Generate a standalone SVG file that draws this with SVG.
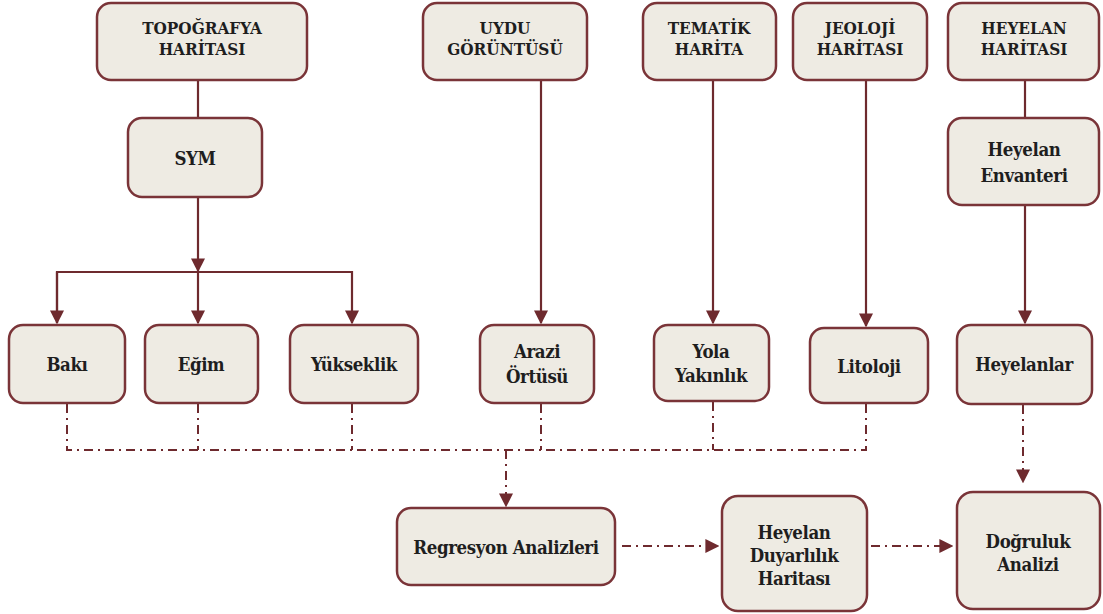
<svg xmlns="http://www.w3.org/2000/svg" width="1103" height="614" viewBox="0 0 1103 614">
<style>
.box{fill:#EEEBE3;stroke:#7A3438;stroke-width:2.5}
.h{font-size:17px}
.b{font-size:18.5px;letter-spacing:-0.4px}
.s{fill:none;stroke:#6E2A2E;stroke-width:2.2}
.d{fill:none;stroke:#6E2A2E;stroke-width:2;stroke-dasharray:9 5 2 5}
</style>
<defs>
<marker id="ar" viewBox="0 0 10 10" refX="9" refY="5" markerWidth="14" markerHeight="14" markerUnits="userSpaceOnUse" orient="auto">
<path d="M0,0 L10,5 L0,10 z" fill="#6E2A2E"/>
</marker>
</defs>
<rect width="1103" height="614" fill="#fff"/>

<g id="connectors">
<line class="s" x1="198" y1="80" x2="198" y2="118"/>
<line class="s" x1="198" y1="197" x2="198" y2="271" marker-end="url(#ar)"/>
<polyline class="s" points="57,323 57,272 352,272 352,323" marker-end="url(#ar)"/>
<polyline class="s" points="57,272 57,323" marker-end="url(#ar)"/>
<line class="s" x1="198" y1="272" x2="198" y2="323" marker-end="url(#ar)"/>
<line class="s" x1="541" y1="80" x2="541" y2="323" marker-end="url(#ar)"/>
<line class="s" x1="713" y1="80" x2="713" y2="323" marker-end="url(#ar)"/>
<line class="s" x1="866" y1="80" x2="866" y2="326" marker-end="url(#ar)"/>
<line class="s" x1="1025" y1="80" x2="1025" y2="118"/>
<line class="s" x1="1025" y1="205" x2="1025" y2="323" marker-end="url(#ar)"/>

<polyline class="d" points="67,404 67,450 866,450 866,404"/>
<line class="d" x1="198" y1="404" x2="198" y2="450"/>
<line class="d" x1="352" y1="404" x2="352" y2="450"/>
<line class="d" x1="541" y1="404" x2="541" y2="450"/>
<line class="d" x1="713" y1="402" x2="713" y2="450"/>
<line class="d" x1="506" y1="450" x2="506" y2="506" marker-end="url(#ar)"/>
<line class="d" x1="1023" y1="405" x2="1023" y2="482" marker-end="url(#ar)"/>
<line class="d" x1="622" y1="546" x2="718" y2="546" marker-end="url(#ar)"/>
<line class="d" x1="871" y1="546" x2="952" y2="546" marker-end="url(#ar)"/>
</g>

<g font-family="DejaVu Serif Condensed, DejaVu Serif, serif" font-stretch="condensed" font-weight="bold" fill="#1e1e1e" text-anchor="middle">
<g id="topografya"><rect class="box" x="97" y="3" width="210" height="77" rx="14"/>
<text class="h" x="202" y="34">TOPOĞRAFYA</text><text class="h" x="202" y="55">HARİTASI</text></g>
<g id="uydu"><rect class="box" x="423" y="3" width="164" height="77" rx="14"/>
<text class="h" x="505" y="34">UYDU</text><text class="h" x="505" y="55">GÖRÜNTÜSÜ</text></g>
<g id="tematik"><rect class="box" x="643" y="3" width="133" height="77" rx="14"/>
<text class="h" x="709" y="34">TEMATİK</text><text class="h" x="709" y="55">HARİTA</text></g>
<g id="jeoloji"><rect class="box" x="793" y="3" width="134" height="77" rx="14"/>
<text class="h" x="860" y="34">JEOLOJİ</text><text class="h" x="860" y="55">HARİTASI</text></g>
<g id="heyelanharitasi"><rect class="box" x="948" y="3" width="151" height="77" rx="14"/>
<text class="h" x="1024" y="34">HEYELAN</text><text class="h" x="1024" y="55">HARİTASI</text></g>

<g id="sym"><rect class="box" x="128" y="118" width="134" height="79" rx="14"/>
<text class="b" x="195" y="165">SYM</text></g>
<g id="envanteri"><rect class="box" x="948" y="118" width="151" height="87" rx="14"/>
<text class="b" x="1024" y="156">Heyelan</text><text class="b" x="1024" y="182">Envanteri</text></g>

<g id="baki"><rect class="box" x="9" y="325" width="116" height="78" rx="14"/>
<text class="b" x="67" y="371">Bakı</text></g>
<g id="egim"><rect class="box" x="145" y="325" width="113" height="78" rx="14"/>
<text class="b" x="201" y="371">Eğim</text></g>
<g id="yukseklik"><rect class="box" x="290" y="325" width="128" height="78" rx="14"/>
<text class="b" x="354" y="371">Yükseklik</text></g>
<g id="arazi"><rect class="box" x="480" y="325" width="114" height="78" rx="14"/>
<text class="b" x="537" y="358">Arazi</text><text class="b" x="537" y="383">Örtüsü</text></g>
<g id="yola"><rect class="box" x="654" y="325" width="115" height="76" rx="14"/>
<text class="b" x="711" y="358">Yola</text><text class="b" x="711" y="382">Yakınlık</text></g>
<g id="litoloji"><rect class="box" x="810" y="328" width="118" height="75" rx="14"/>
<text class="b" x="869" y="373">Litoloji</text></g>
<g id="heyelanlar"><rect class="box" x="957" y="325" width="135" height="79" rx="14"/>
<text class="b" x="1024" y="371">Heyelanlar</text></g>

<g id="regresyon"><rect class="box" x="397" y="508" width="218" height="77" rx="14"/>
<text class="b" x="506" y="554">Regresyon Analizleri</text></g>
<g id="duyarlilik"><rect class="box" x="722" y="496" width="145" height="115" rx="16"/>
<text class="b" x="794" y="539">Heyelan</text><text class="b" x="794" y="562">Duyarlılık</text><text class="b" x="794" y="585">Haritası</text></g>
<g id="dogruluk"><rect class="box" x="957" y="492" width="143" height="117" rx="16"/>
<text class="b" x="1028" y="548">Doğruluk</text><text class="b" x="1028" y="571">Analizi</text></g>
</g>
</svg>
